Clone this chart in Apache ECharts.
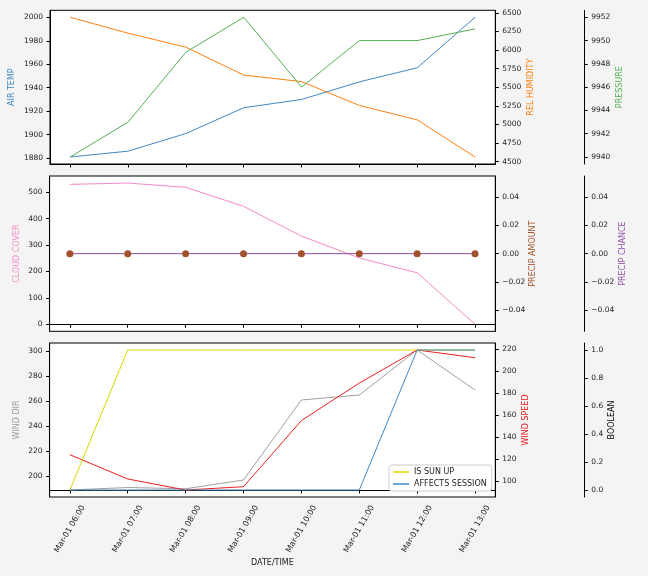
<!DOCTYPE html>
<html>
<head>
<meta charset="utf-8">
<script src="https://cdn.jsdelivr.net/npm/echarts@6/dist/echarts.min.js"></script>
<style>
html,body{margin:0;padding:0;background:#f4f4f4;}
#chart{width:648px;height:576px;}
</style>
</head>
<body>
<div id="chart"></div>
<script>
const times = ['Mar-01 06:00','Mar-01 07:00','Mar-01 08:00','Mar-01 09:00','Mar-01 10:00','Mar-01 11:00','Mar-01 12:00','Mar-01 13:00'];
const airTemp = [1881,1886,1901,1923,1930,1945,1957,2000];
const relHumidity = [6441,6227,6039,5664,5576,5255,5062,4562];
const pressure = [9940,9943,9949,9952,9946,9950,9950,9951];
const cloudCover = [530,535,519,447,334,251,195,0];
const precipAmount = [0,0,0,0,0,0,0,0];
const precipChance = [0,0,0,0,0,0,0,0];
const windDir = [189,191,190,197,261,265,301,269];
const windSpeed = [124,102,92,95,155,189,219,212];
const isSunUp = [0,1,1,1,1,1,1,1];
const affectsSession = [0,0,0,0,0,0,1,1];

const airTempTicks = [1880,1900,1920,1940,1960,1980,2000];
const humidityTicks = [4500,4750,5000,5250,5500,5750,6000,6250,6500];
const pressureTicks = [9940,9942,9944,9946,9948,9950,9952];
const cloudTicks = [0,100,200,300,400,500];
const precipTicks = [-0.04,-0.02,0,0.02,0.04];
const windDirTicks = [200,220,240,260,280,300];
const windSpeedTicks = [100,120,140,160,180,200,220];
const boolTicks = [0,0.2,0.4,0.6,0.8,1.0];

const FONT = 'DejaVu Sans';
const TICKFS = 7.5;
const C = {
  blue:'#3f88c5', orange:'#ff7f0e', green:'#55b055', pink:'#f58bc8',
  brown:'#a0522d', purple:'#8e4fa6', yellow:'#d8d800', grey:'#a0a0a0', red:'#ee2020', black:'#000'
};

function range(arr){
  const mn = Math.min(...arr), mx = Math.max(...arr), r = mx - mn;
  if (r === 0) return [mn - 0.055, mx + 0.055];
  return [mn - 0.05*r, mx + 0.05*r];
}
const xIdx = times.map((t,i)=>i);
function pts(arr){ return arr.map((v,i)=>[i,v]); }

const grids = [
  {left:49.6, width:445.7, top:10.3, height:153.7},
  {left:49.6, width:445.7, top:176, height:155.3},
  {left:49.6, width:445.7, top:343, height:154}
].map(g=>Object.assign(g,{show:true, backgroundColor:'#fff', borderColor:'#000', borderWidth:1}));

function xAxis(g){
  const last = g===2;
  return {
    type:'value', gridIndex:g, min:-0.35, max:7.35,
    axisLine:{show:true, lineStyle:{color:'#000', width:1}},
    axisTick:{show:true, customValues:xIdx, length:3.5, lineStyle:{color:'#000'}},
    axisLabel:{show:last, customValues:xIdx, formatter:v=>times[Math.round(v)], rotate:60,
      align:'center', verticalAlign:'middle', margin:32, fontSize:8, fontFamily:FONT, color:'#222'},
    splitLine:{show:false},
    name: last ? 'DATE/TIME' : '', nameLocation:'middle', nameGap:62, nameMoveOverlap:false,
    nameTextStyle:{fontSize:8, fontFamily:FONT, color:'#222'}
  };
}

function yAxis(g, pos, offset, data, ticks, name, color, gap, fmt){
  const r = range(data);
  return {
    type:'value', gridIndex:g, position:pos, offset:offset, min:r[0], max:r[1],
    axisLine:{show:true, onZero:false, lineStyle:{color:'#000', width:1}},
    axisTick:{show:true, customValues:ticks, length:3.5, lineStyle:{color:'#000'}},
    axisLabel:{customValues:ticks, formatter:fmt || (v=>String(v)), margin:7, fontSize:TICKFS, fontFamily:FONT, color:'#222'},
    splitLine:{show:false},
    name:name, nameLocation:'middle', nameRotate:90, nameGap:gap, nameMoveOverlap:false,
    nameTextStyle:{fontSize:8, fontFamily:FONT, color:color}
  };
}
const precFmt = v => (Math.abs(v)<1e-9 ? '0.00' : v.toFixed(2)).replace('-', '\u2212');
const boolFmt = v => v.toFixed(1);

const yAxes = [
  yAxis(0,'left',0,airTemp,airTempTicks,'AIR TEMP',C.blue,34),
  yAxis(0,'right',0,relHumidity,humidityTicks,'REL HUMIDITY',C.orange,32),
  yAxis(0,'right',89,pressure,pressureTicks,'PRESSURE',C.green,32),
  yAxis(1,'left',0,cloudCover,cloudTicks,'CLOUD COVER','#f48fc4',29),
  yAxis(1,'right',0,precipAmount,precipTicks,'PRECIP AMOUNT',C.brown,34,precFmt),
  yAxis(1,'right',89,precipChance,precipTicks,'PRECIP CHANCE',C.purple,35,precFmt),
  yAxis(2,'left',0,windDir,windDirTicks,'WIND DIR',C.grey,29),
  yAxis(2,'right',0,windSpeed,windSpeedTicks,'WIND SPEED',C.red,27),
  yAxis(2,'right',89,[0,1],boolTicks,'BOOLEAN','#000',24,boolFmt)
];

function line(name, data, xi, yi, color, z){
  return {name:name, type:'line', xAxisIndex:xi, yAxisIndex:yi, data:pts(data),
    showSymbol:false, symbol:'none', lineStyle:{color:color, width:1}, itemStyle:{color:color},
    animation:false, z:z||2};
}

const series = [
  line('AIR TEMP', airTemp, 0, 0, C.blue),
  line('REL HUMIDITY', relHumidity, 0, 1, C.orange),
  line('PRESSURE', pressure, 0, 2, C.green),
  line('CLOUD COVER', cloudCover, 1, 3, C.pink),
  {name:'PRECIP AMOUNT', type:'scatter', xAxisIndex:1, yAxisIndex:4, data:pts(precipAmount),
    symbolSize:7, itemStyle:{color:C.brown, opacity:1}, z:5, animation:false},
  line('PRECIP CHANCE', precipChance, 1, 5, C.purple, 3),
  line('WIND DIR', windDir, 2, 6, C.grey),
  line('WIND SPEED', windSpeed, 2, 7, C.red),
  line('IS SUN UP', isSunUp, 2, 8, C.yellow),
  line('AFFECTS SESSION', affectsSession, 2, 8, C.blue)
];

const chart = echarts.init(document.getElementById('chart'), null, {renderer:'canvas'});
chart.setOption({
  backgroundColor:'#f4f4f4',
  animation:false,
  grid:grids,
  xAxis:[xAxis(0), xAxis(1), xAxis(2)],
  yAxis:yAxes,
  legend:{
    data:['IS SUN UP','AFFECTS SESSION'], orient:'vertical', left:389, top:465,
    backgroundColor:'#fff', borderColor:'#ccc', borderWidth:1, borderRadius:3,
    padding:[3,5,3,4], itemGap:4, itemWidth:16, itemHeight:1.5, icon:'rect',
    textStyle:{fontSize:8, fontFamily:FONT, color:'#222'}
  },
  series:series
});
</script>
</body>
</html>
